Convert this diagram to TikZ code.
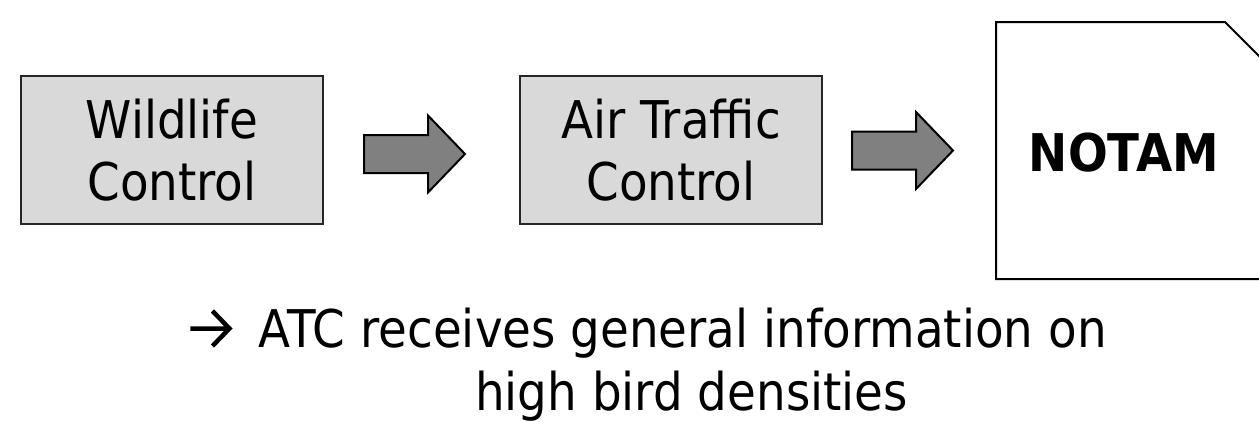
\documentclass[tikz,border=0pt]{standalone}
\usepackage{fontspec}
\setmainfont{DejaVu Sans}[FakeStretch=0.9]
\definecolor{boxgray}{HTML}{D9D9D9}
\definecolor{arrowgray}{HTML}{808080}
\tikzset{
  stagebox/.style={draw=black!85, line width=1.5pt, fill=boxgray, minimum width=302pt,
    minimum height=148pt, inner sep=0pt, align=center, font=\fontsize{52}{62}\selectfont},
  notetext/.style={font=\fontsize{52}{62}\selectfont, inner sep=0pt, anchor=base west},
  blockarrow/.pic={
    \draw[line width=2pt, line join=miter, fill=arrowgray]
      (0,-19) -- (64,-19) -- (64,-38.5) -- (101,0) -- (64,38.5) -- (64,19) -- (0,19) -- cycle;
  }
}
% bullet arrow set in front of the note
\newcommand{\notearrow}{\tikz[baseline=0pt, x=1pt, y=1pt]
  \draw[line width=4.5pt, line cap=butt, line join=miter]
    (0,18.5) -- (39,18.5) (22,36) -- (39,18.5) -- (22,1);}
\begin{document}
\begin{tikzpicture}[x=1pt, y=-1pt]
  \useasboundingbox (0,0) rectangle (1259,421);
  \fill[white] (0,0) rectangle (1259,421);
  % process stages
  \node[stagebox] (wild) at (172,150) {Wildlife\\Control};
  \node[stagebox] (atc) at (671,150) {Air Traffic\\Control};
  % NOTAM sheet with a clipped corner
  \coordinate (n1) at (996,22);
  \coordinate (n2) at (1225,22);
  \coordinate (n3) at (1300,97);
  \coordinate (n4) at (1300,279);
  \coordinate (n5) at (996,279);
  \draw[line width=2pt, fill=white] (n1) -- (n2) -- (n3) -- (n4) -- (n5) -- cycle;
  \node[font=\fontsize{52}{62}\selectfont\bfseries, inner sep=0pt] (notam) at (1124,153) {NOTAM};
  % flow arrows between stages
  \pic at (364,154) {blockarrow};
  \pic at (852,150.5) {blockarrow};
  % note below
  \node[notetext] (note1) at (188,347) {\notearrow\hspace{27pt}ATC receives general information on};
  \node[notetext] (note2) at (475,410) {high bird densities};
\end{tikzpicture}
\end{document}
